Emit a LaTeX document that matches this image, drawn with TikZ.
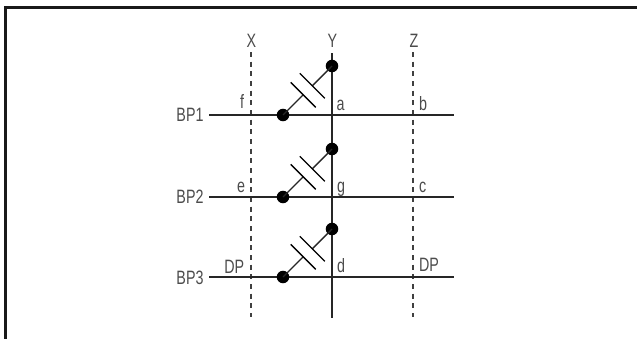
\documentclass[tikz,border=0pt]{standalone}
\usetikzlibrary{calc}
\usepackage{fontspec}
\setmainfont{Liberation Sans}
\tikzset{x=0.75pt,y=-0.75pt,
 wire/.style={line width=1.05pt,draw=black!85},
 plate/.style={line width=1pt,draw=black},
 grid/.style={line width=0.8pt,draw=black!75,dash pattern=on 3.7pt off 3.55pt},
 dot/.style={circle,fill=black,inner sep=0pt,minimum size=9.4pt},
 lab/.style={font=\fontsize{14.5pt}{16pt}\selectfont,text=black!70,inner sep=0pt,xscale=0.74,anchor=base},
 frameline/.style={line width=1.6pt,draw=black!90}}
\begin{document}
\begin{tikzpicture}
\useasboundingbox (0,0) rectangle (637,339);
\fill[white] (0,0) rectangle (637,339);
\coordinate (ftl) at (5.5,7.5); \coordinate (ftr) at (637,7.5); \coordinate (fbl) at (5.5,339);
\draw[frameline] (ftr)--(ftl)--(fbl);
\coordinate (xt) at (251,52); \coordinate (xb) at (251,317);
\coordinate (yt) at (332,53); \coordinate (yb) at (332,318);
\coordinate (zt) at (413,52); \coordinate (zb) at (413,317);
\draw[grid] (xt)--(xb);
\draw[grid] (zt)--(zb);
\draw[wire,line width=1.2pt] (yt)--(yb);
\node[lab] (lx) at (251.5,47.3) {X};
\node[lab] (ly) at (332.5,47.3) {Y};
\node[lab] (lz) at (414,47.3) {Z};
\node[lab] (b1) at (190,121.7) {BP1};
\node[lab] (b2) at (190,203.3) {BP2};
\node[lab] (b3) at (190,284) {BP3};
\coordinate (e1) at (454,115); \coordinate (e2) at (454,197); \coordinate (e3) at (454,277);
\coordinate (s1) at (209,115); \coordinate (s2) at (209,197); \coordinate (s3) at (209,277);
\draw[wire] (s1)--(e1); \draw[wire] (s2)--(e2); \draw[wire] (s3)--(e3);
\foreach \n/\yt/\yb in {1/66/115,2/149/197,3/229/277}{
 \node[dot] (t\n) at (332,\yt) {};
 \node[dot] (l\n) at (283,\yb) {};
 \coordinate (pa\n) at (303.2,\yb-20.2);
 \coordinate (pb\n) at (312.3,\yt+19.8);
 \draw[wire] (l\n.center)--(pa\n);
 \draw[wire] (t\n.center)--(pb\n);
 \draw[plate] ($(pa\n)+(-12.5,-12.5)$)--($(pa\n)+(12.5,12.5)$);
 \draw[plate] ($(pb\n)+(-12.5,-12.5)$)--($(pb\n)+(12.5,12.5)$);
}
\node[lab] (f) at (242,108.3) {f};
\node[lab] (a) at (340.5,110) {a};
\node[lab] (bb) at (423,110) {b};
\node[lab] (e) at (241,192.3) {e};
\node[lab] (g) at (341,192.7) {g};
\node[lab] (c) at (422.7,192.3) {c};
\node[lab] (dp1) at (234.3,273.3) {DP};
\node[lab] (d) at (341,272) {d};
\node[lab] (dp2) at (429,271.7) {DP};
\end{tikzpicture}
\end{document}
